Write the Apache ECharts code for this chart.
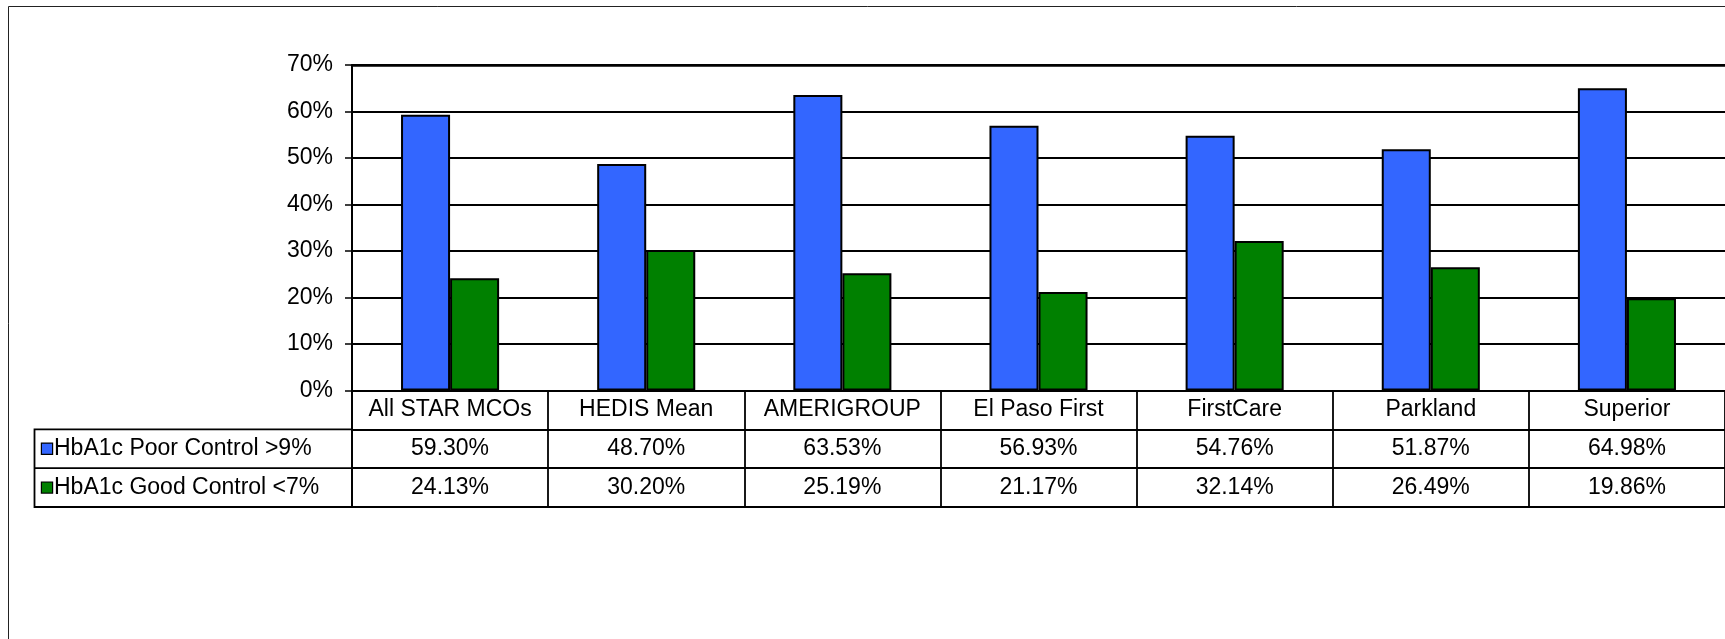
<!DOCTYPE html>
<html><head><meta charset="utf-8">
<script src="https://cdn.jsdelivr.net/npm/echarts@6/dist/echarts.min.js"></script>
<style>html,body{margin:0;padding:0;background:#fff;overflow:hidden}#c{width:1725px;height:639px}</style>
</head><body><div id="c"></div>
<script>
// ---- data ----
const categories = ['All STAR MCOs', 'HEDIS Mean', 'AMERIGROUP', 'El Paso First', 'FirstCare', 'Parkland', 'Superior'];
const seriesNames = ['HbA1c Poor Control >9%', 'HbA1c Good Control <7%'];
const poorControl = [59.30, 48.70, 63.53, 56.93, 54.76, 51.87, 64.98];
const goodControl = [24.13, 30.20, 25.19, 21.17, 32.14, 26.49, 19.86];
const yMin = 0, yMax = 70, yStep = 10;

// ---- layout ----
const FONT = 'Liberation Sans';
const FS = 23;
const plotLeft = 352, plotTop = 65, plotBottom = 390.5, catW = 198;
const tableBottom = 507, legendLeft = 34.5;
const plotW = catW * categories.length;
const colors = ['#3366FF', '#008000'];

const tableRows = ['cat', 'poor', 'good'];
const catRowData = categories.map((c, i) => [i, 'cat', c]);
const poorRowData = poorControl.map((v, i) => [i, 'poor', v]);
const goodRowData = goodControl.map((v, i) => [i, 'good', v]);

const chart = echarts.init(document.getElementById('c'), null, {renderer: 'canvas'});
const lineBlack = {color: '#000', width: 1.8};
const textLabel = {show: true, position: 'inside', color: '#000', textBorderWidth: 0, textBorderColor: 'transparent',
  fontFamily: FONT, fontSize: FS, opacity: 1};
const cellItem = {color: '#fff', opacity: 1};

const option = {
  animation: false,
  backgroundColor: '#fff',
  grid: [
    {left: plotLeft, top: plotTop, width: plotW, height: plotBottom - plotTop},
    {left: plotLeft, top: plotBottom, width: plotW, height: tableBottom - plotBottom}
  ],
  xAxis: [
    {type: 'category', gridIndex: 0, data: categories, position: 'bottom',
      axisLine: {show: true, lineStyle: {color: '#000', width: 2}}, axisTick: {show: false},
      axisLabel: {show: false}, splitLine: {show: false}},
    {type: 'category', gridIndex: 1, data: categories, position: 'bottom',
      axisLine: {show: true, lineStyle: lineBlack}, axisTick: {show: false},
      axisLabel: {show: false}, splitLine: {show: true, interval: 0, lineStyle: lineBlack}},
    {type: 'category', gridIndex: 0, data: categories, position: 'top',
      axisLine: {show: true, lineStyle: {color: '#000', width: 2.5}}, axisTick: {show: false},
      axisLabel: {show: false}, splitLine: {show: false}}
  ],
  yAxis: [
    {type: 'value', gridIndex: 0, min: yMin, max: yMax, interval: yStep,
      axisLine: {show: true, lineStyle: {color: '#000', width: 2}},
      axisTick: {show: true, length: 7, lineStyle: {color: '#000', width: 1.5}},
      axisLabel: {margin: 19, color: '#000', fontFamily: FONT, fontSize: FS, formatter: v => v + '%'},
      splitLine: {show: true, lineStyle: lineBlack}},
    {type: 'category', gridIndex: 1, data: tableRows, inverse: true,
      axisLine: {show: true, lineStyle: lineBlack}, axisTick: {show: false},
      splitLine: {show: true, interval: 0, lineStyle: lineBlack},
      axisLabel: {
        show: true, interval: 0, align: 'left', margin: plotLeft - 42,
        formatter: v => v === 'poor' ? '{s0|}{t|' + seriesNames[0] + '}' : (v === 'good' ? '{s1|}{t|' + seriesNames[1] + '}' : ''),
        rich: {
          s0: {width: 10, height: 10, backgroundColor: colors[0], borderColor: '#000', borderWidth: 1.2, verticalAlign: 'middle'},
          s1: {width: 10, height: 10, backgroundColor: colors[1], borderColor: '#000', borderWidth: 1.2, verticalAlign: 'middle'},
          t: {color: '#000', fontFamily: FONT, fontSize: FS, padding: [0, 0, 0, 2], verticalAlign: 'middle'}
        }
      }}
  ],
  series: [
    {name: seriesNames[0], type: 'bar', xAxisIndex: 0, yAxisIndex: 0, data: poorControl,
      barCategoryGap: '50%', barGap: '0%',
      itemStyle: {color: colors[0], borderColor: '#000', borderWidth: 2}, silent: true},
    {name: seriesNames[1], type: 'bar', xAxisIndex: 0, yAxisIndex: 0, data: goodControl,
      barCategoryGap: '50%', barGap: '0%',
      itemStyle: {color: colors[1], borderColor: '#000', borderWidth: 2}, silent: true},
    {type: 'scatter', xAxisIndex: 1, yAxisIndex: 1, data: catRowData, symbol: 'rect', symbolSize: 1,
      itemStyle: cellItem, silent: true, z: 1,
      label: Object.assign({}, textLabel, {formatter: p => p.data[2]})},
    {type: 'scatter', xAxisIndex: 1, yAxisIndex: 1, data: poorRowData, symbol: 'rect', symbolSize: 1,
      itemStyle: cellItem, silent: true, z: 1,
      label: Object.assign({}, textLabel, {formatter: p => p.data[2].toFixed(2) + '%'})},
    {type: 'scatter', xAxisIndex: 1, yAxisIndex: 1, data: goodRowData, symbol: 'rect', symbolSize: 1,
      itemStyle: cellItem, silent: true, z: 1,
      label: Object.assign({}, textLabel, {formatter: p => p.data[2].toFixed(2) + '%'})}
  ]
};
chart.setOption(option);

// legend-column box lines, aligned to the table rows computed by the library
const rowH = (tableBottom - plotBottom) / tableRows.length;
const yPoorTop = chart.convertToPixel({yAxisIndex: 1}, 'poor') - rowH / 2;
const yGoodTop = chart.convertToPixel({yAxisIndex: 1}, 'good') - rowH / 2;
const yBottom = yGoodTop + rowH;
chart.setOption({
  graphic: [
    {type: 'rect', shape: {x: 8.5, y: 6.5, width: 1800, height: 800}, style: {fill: 'none', stroke: '#222', lineWidth: 1}, silent: true, z: 0},
    {type: 'polyline', shape: {points: [[plotLeft, yPoorTop], [legendLeft, yPoorTop], [legendLeft, yBottom], [plotLeft, yBottom]]},
      style: {fill: 'none', stroke: '#000', lineWidth: 1.8}, silent: true},
    {type: 'line', shape: {x1: legendLeft, y1: yGoodTop, x2: plotLeft, y2: yGoodTop},
      style: {stroke: '#000', lineWidth: 1.8}, silent: true}
  ]
});
</script>
</body></html>
